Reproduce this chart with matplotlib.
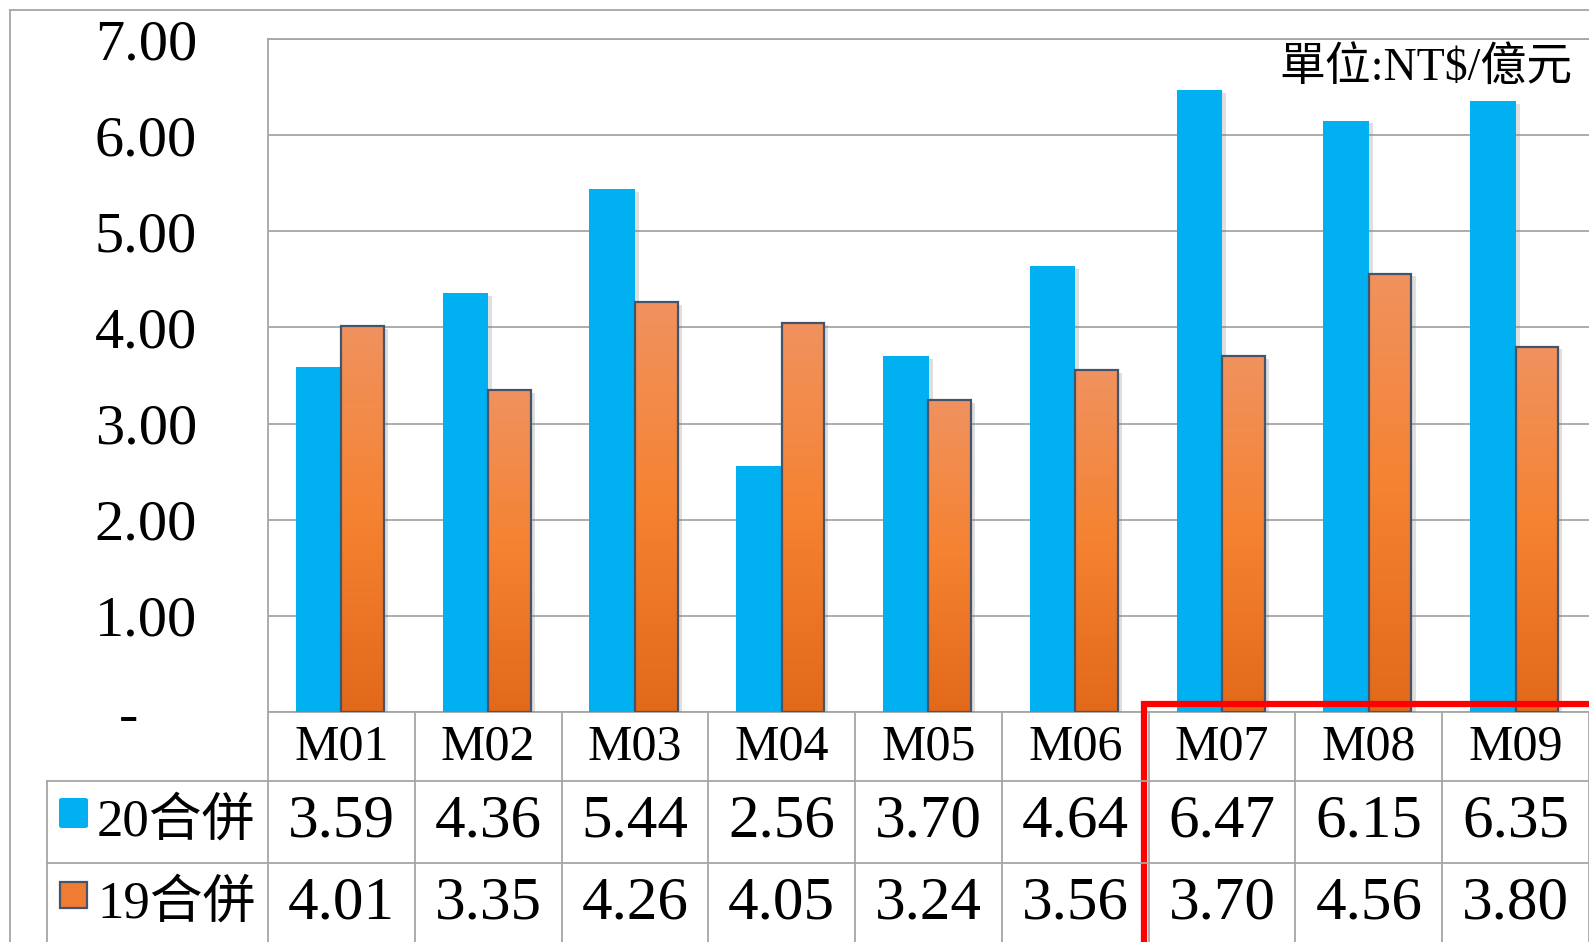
import numpy as np
import matplotlib
import matplotlib.pyplot as plt
import matplotlib.transforms as mtransforms
import matplotlib.patheffects as pe
from matplotlib.colors import LinearSegmentedColormap
from matplotlib.patches import Rectangle, FancyBboxPatch
from matplotlib.lines import Line2D

plt.rcParams['font.family'] = ['Liberation Serif', 'Noto Sans CJK TC']

# data
months = ['M01', 'M02', 'M03', 'M04', 'M05', 'M06', 'M07', 'M08', 'M09']
merged20 = [3.59, 4.36, 5.44, 2.56, 3.70, 4.64, 6.47, 6.15, 6.35]
merged19 = [4.01, 3.35, 4.26, 4.05, 3.24, 3.56, 3.70, 4.56, 3.80]
series_names = ['20合併', '19合併']
unit_label = '單位:NT$/億元'
yticks = [0, 1, 2, 3, 4, 5, 6, 7]

W, H = 1589, 942
fig = plt.figure(figsize=(W / 100, H / 100), dpi=100)


def fy(y):
    return 1 - y / H


def fx(x):
    return x / W


ax = fig.add_axes([fx(268), fy(712), (W - 268) / W, (712 - 39) / H])
x = np.arange(len(months))
gray = '#A6A6A6'

shadow = [pe.SimplePatchShadow(offset=(3, -2), shadow_rgbFace='#808080', alpha=0.25), pe.Normal()]

ax.bar(x - 0.155, merged20, width=0.31, color='#00B0F0', zorder=3, path_effects=shadow)
# shadow layer for orange bars
ax.bar(x + 0.145, merged19, width=0.29, color='#F07B32', zorder=2.8, path_effects=shadow)
obars = ax.bar(x + 0.145, merged19, width=0.29, facecolor='none',
               edgecolor='#44546A', linewidth=1.6, zorder=4)

# orange gradient fill, per bar
ocmap = LinearSegmentedColormap.from_list('org', ['#E2691A', '#F58230', '#F0925F'])
grad = np.linspace(0, 1, 256).reshape(-1, 1)
for p in obars:
    im = ax.imshow(grad, extent=(p.get_x(), p.get_x() + p.get_width(), 0, p.get_height()),
                   aspect='auto', cmap=ocmap, origin='lower', zorder=3.5)
    im.set_clip_path(p)

ax.set_xlim(-0.5, len(months) - 0.5)
ax.set_ylim(0, 7)
ax.set_xticks([])
ax.set_yticks(yticks)
ax.set_yticklabels(['-    '] + ['%.2f' % v for v in yticks[1:]])
ax.tick_params(axis='y', length=0, pad=51, labelsize=42)
ax.yaxis.grid(True, color=gray, linewidth=1.3)
ax.set_axisbelow(True)
for s in ['top', 'left', 'bottom']:
    ax.spines[s].set_color(gray)
    ax.spines[s].set_linewidth(1.3)
ax.spines['right'].set_visible(False)

fig.text(fx(1573), fy(68), unit_label, ha='right', va='center', fontsize=33)

# data table below the plot
trans = mtransforms.blended_transform_factory(ax.transData, fig.transFigure)
for i in range(len(months) + 1):
    ax.plot([i - 0.5, i - 0.5], [fy(712), fy(H + 5)], color=gray, lw=1.3,
            transform=trans, clip_on=False)
for yy in [781, 863]:
    fig.add_artist(Line2D([fx(47), 1], [fy(yy), fy(yy)], color=gray, lw=1.3))
fig.add_artist(Line2D([fx(47), fx(47)], [fy(781), fy(H + 5)], color=gray, lw=1.3))

for i, m in enumerate(months):
    ax.text(i, fy(747), m, transform=trans, ha='center', va='center', fontsize=36)
    ax.text(i, fy(822), '%.2f' % merged20[i], transform=trans, ha='center', va='center', fontsize=44)
    ax.text(i, fy(904), '%.2f' % merged19[i], transform=trans, ha='center', va='center', fontsize=44)

# legend keys
fig.add_artist(FancyBboxPatch((fx(59), fy(828)), 29 / W, 30 / H, boxstyle='round,pad=0,rounding_size=0.002',
                              facecolor='#00B0F0', edgecolor='none', transform=fig.transFigure))
fig.add_artist(Rectangle((fx(60), fy(908)), 27 / W, 26 / H, facecolor='#F07B32',
                         edgecolor='#44546A', lw=1.6, transform=fig.transFigure))
fig.text(fx(97), fy(822), series_names[0], ha='left', va='center', fontsize=38)
fig.text(fx(97), fy(904), series_names[1], ha='left', va='center', fontsize=38)

# outer chart border
fig.add_artist(Line2D([fx(10), fx(10)], [fy(10), 0], color=gray, lw=1.3))
fig.add_artist(Line2D([fx(10), 1], [fy(10), fy(10)], color=gray, lw=1.3))

# red highlight box
fig.add_artist(Rectangle((fx(1144), fy(H + 20)), (W + 20 - 1144) / W, (H + 20 - 704) / H,
                         fill=False, edgecolor='#FF0000', lw=4.5, transform=fig.transFigure))

fig.savefig('out.png', dpi=100)
